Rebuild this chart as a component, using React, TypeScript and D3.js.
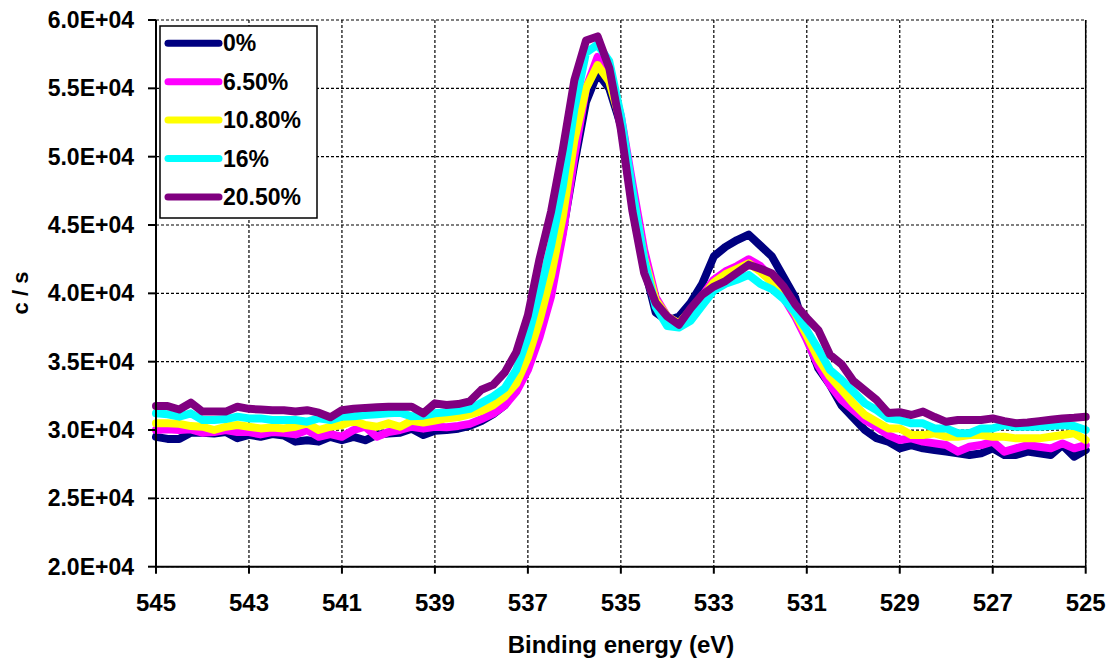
import React from "react";
import * as d3 from "d3";

const energies = [
  545, 544.75, 544.5, 544.25, 544, 543.75, 543.5, 543.25, 543, 542.75,
  542.5, 542.25, 542, 541.75, 541.5, 541.25, 541, 540.75, 540.5, 540.25,
  540, 539.75, 539.5, 539.25, 539, 538.75, 538.5, 538.25, 538, 537.75,
  537.5, 537.25, 537, 536.75, 536.5, 536.25, 536, 535.75, 535.5, 535.25,
  535, 534.75, 534.5, 534.25, 534, 533.75, 533.5, 533.25, 533, 532.75,
  532.5, 532.25, 532, 531.75, 531.5, 531.25, 531, 530.75, 530.5, 530.25,
  530, 529.75, 529.5, 529.25, 529, 528.75, 528.5, 528.25, 528, 527.75,
  527.5, 527.25, 527, 526.75, 526.5, 526.25, 526, 525.75, 525.5, 525.25, 525,
];

const s0 = [
  29500, 29350, 29350, 29800, 29800, 29750, 29850, 29400, 29650, 29500,
  29700, 29600, 29150, 29250, 29150, 29500, 29250, 29500, 29250, 29650,
  29750, 29800, 30100, 29630, 29950, 30000, 30100, 30300, 30650, 31150,
  31800, 33000, 34800, 37300, 40300, 44500, 49500, 54000, 56100, 55000,
  52300, 46800, 42000, 38600, 38000, 38300, 39300, 40700, 42700, 43400,
  43900, 44300, 43500, 42700, 41200, 39700, 36800, 34500, 33300, 31800,
  30900, 30000, 29400, 29150, 28660, 28900, 28660, 28540, 28420, 28290,
  28170, 28290, 28660, 28170, 28170, 28420, 28290, 28170, 28900, 28050, 28540,
];

const s65 = [
  30000, 30050, 30000, 30050, 29800, 29850, 30000, 29850, 29850, 29680,
  29850, 29800, 29680, 30000, 29510, 29700, 29510, 30000, 30240, 29510,
  29850, 30000, 30240, 30100, 30240, 30200, 30300, 30450, 30800, 31200,
  31800, 32800, 34400, 36800, 39800, 44300, 50000, 55000, 57300, 56200,
  53000, 48000, 43200, 39700, 38300, 37800, 38700, 39800, 41000, 41600,
  42000, 42500, 42000, 41100, 39700, 38300, 36600, 34700, 33290, 32200,
  31460, 30730, 30240, 29630, 29270, 29390, 29150, 29020, 28900, 28420,
  28780, 28900, 29150, 28420, 28660, 28900, 28780, 28660, 29020, 28660, 28900,
];

const s108 = [
  30490, 30490, 30450, 30290, 30240, 30000, 30240, 30370, 30240, 30120,
  30180, 30120, 30240, 30490, 30000, 30240, 30370, 30680, 30370, 30240,
  30490, 30240, 30680, 30550, 30700, 30850, 30950, 31150, 31400, 31800,
  32450, 33400, 35300, 38000, 41300, 45600, 51200, 55000, 56700, 55500,
  52500, 47300, 42600, 39500, 38300, 37800, 38800, 39700, 40800, 41400,
  41800, 42200, 41600, 40800, 39800, 38500, 36900, 35200, 33900, 32930,
  31950, 31100, 30610, 30120, 30120, 29630, 29630, 29760, 29510, 29510,
  29630, 29630, 29510, 29510, 29390, 29390, 29390, 29510, 29630, 29760, 29270,
];

const s16 = [
  31220, 31150, 30980, 31220, 30730, 30730, 30800, 30980, 30850, 30850,
  30730, 30730, 30730, 30610, 30850, 30730, 30980, 31000, 31100, 31150,
  31220, 31270, 31000, 31050, 31220, 31300, 31400, 31550, 32000, 32450,
  33050, 34400, 36800, 40000, 43500, 47800, 53500, 57600, 58200, 57000,
  53000, 47500, 42500, 39000, 37600, 37500, 38000, 39100, 40200, 40700,
  41000, 41350, 40700, 40300, 39600, 38600, 37300, 35900, 34390, 33660,
  32810, 31950, 31460, 30850, 30730, 30490, 30490, 30120, 30120, 29760,
  29760, 30120, 30120, 30370, 30240, 30240, 30240, 30290, 30370, 30290, 30000,
];

const s205 = [
  31750, 31750, 31500, 32000, 31350, 31350, 31350, 31700, 31550, 31500,
  31450, 31450, 31350, 31450, 31270, 30930, 31450, 31550, 31620, 31660,
  31700, 31700, 31700, 31220, 31950, 31830, 31900, 32100, 32950, 33300,
  34200, 35700, 38400, 42500, 46000, 50500, 55600, 58500, 58800, 56500,
  52000, 46000, 41500, 39300, 38300, 37700, 38900, 39900, 40500, 40900,
  41500, 42100, 41800, 41450, 40500, 39200, 38200, 37300, 35500, 34800,
  33600, 32900, 32200, 31250, 31300, 31100, 31350, 30950, 30600, 30730,
  30730, 30730, 30850, 30650, 30500, 30550, 30650, 30750, 30850, 30900, 30970,
];

const seriesNames = ["0%", "6.50%", "10.80%", "16%", "20.50%"];
const seriesColors = ["#000080", "#FF00FF", "#FFFF00", "#00FFFF", "#800080"];
const seriesValues = [s0, s65, s108, s16, s205];

const xTicks = [545, 543, 541, 539, 537, 535, 533, 531, 529, 527, 525];
const yTicks = [20000, 25000, 30000, 35000, 40000, 45000, 50000, 55000, 60000];
const yTickLabels = ["2.0E+04", "2.5E+04", "3.0E+04", "3.5E+04", "4.0E+04", "4.5E+04", "5.0E+04", "5.5E+04", "6.0E+04"];

const W = 1112;
const H = 662;
const L = 156;
const R = 1085.7;
const T = 20;
const B = 566.7;
const FONT = "'Liberation Sans', Arial, sans-serif";

export default function App() {
  const x = d3.scaleLinear().domain([545, 525]).range([L, R]);
  const y = d3.scaleLinear().domain([20000, 60000]).range([B, T]);
  const line = d3
    .line<number>()
    .x((_, i) => x(energies[i]))
    .y((v) => y(v));

  return (
    <svg
      width={W}
      height={H}
      style={{ position: "absolute", left: 0, top: 0, background: "#fff" }}
      fontFamily={FONT}
    >
      <rect x={0} y={0} width={W} height={H} fill="#fff" />
      {yTicks.map((t) => (
        <line
          key={"gy" + t}
          x1={L}
          x2={R}
          y1={y(t)}
          y2={y(t)}
          stroke="#000"
          strokeWidth={1.2}
          strokeDasharray="3,2"
        />
      ))}
      {xTicks.map((t) => (
        <line
          key={"gx" + t}
          x1={x(t)}
          x2={x(t)}
          y1={T}
          y2={B}
          stroke="#000"
          strokeWidth={1.2}
          strokeDasharray="3,2"
        />
      ))}
      {seriesValues.map((vals, k) => (
        <path
          key={"s" + k}
          d={line(vals) || ""}
          fill="none"
          stroke={seriesColors[k]}
          strokeWidth={8}
          strokeLinejoin="round"
          strokeLinecap="round"
        />
      ))}
      <line x1={L} x2={L} y1={T} y2={B} stroke="#000" strokeWidth={2} />
      <line x1={L} x2={R} y1={B} y2={B} stroke="#000" strokeWidth={2} />
      <line x1={R} x2={R} y1={T} y2={B} stroke="#000" strokeWidth={1.5} />
      {yTicks.map((t, i) => (
        <g key={"yt" + t}>
          <line x1={L - 8} x2={L} y1={y(t)} y2={y(t)} stroke="#000" strokeWidth={2} />
          <text
            x={134}
            y={y(t) + 8}
            textAnchor="end"
            fontSize={23}
            fontWeight="bold"
            fill="#000"
          >
            {yTickLabels[i]}
          </text>
        </g>
      ))}
      {xTicks.map((t) => (
        <g key={"xt" + t}>
          <line x1={x(t)} x2={x(t)} y1={B} y2={B + 7} stroke="#000" strokeWidth={2} />
          <text
            x={x(t)}
            y={611}
            textAnchor="middle"
            fontSize={24}
            fontWeight="bold"
            fill="#000"
          >
            {t}
          </text>
        </g>
      ))}
      <text
        x={621}
        y={653}
        textAnchor="middle"
        fontSize={24}
        fontWeight="bold"
        fill="#000"
      >
        Binding energy (eV)
      </text>
      <text
        transform="translate(28,293) rotate(-90)"
        textAnchor="middle"
        fontSize={22}
        fontWeight="bold"
        fill="#000"
      >
        c / s
      </text>
      <rect x={160} y={26} width={157} height={192} fill="#fff" stroke="#000" strokeWidth={1.5} />
      {seriesNames.map((n, k) => {
        const cy = 43.3 + 38.4 * k;
        return (
          <g key={"lg" + k}>
            <line
              x1={168}
              x2={219}
              y1={cy}
              y2={cy}
              stroke={seriesColors[k]}
              strokeWidth={7}
              strokeLinecap="round"
            />
            <text x={223} y={cy + 8} fontSize={23} fontWeight="bold" fill="#000">
              {n}
            </text>
          </g>
        );
      })}
    </svg>
  );
}
